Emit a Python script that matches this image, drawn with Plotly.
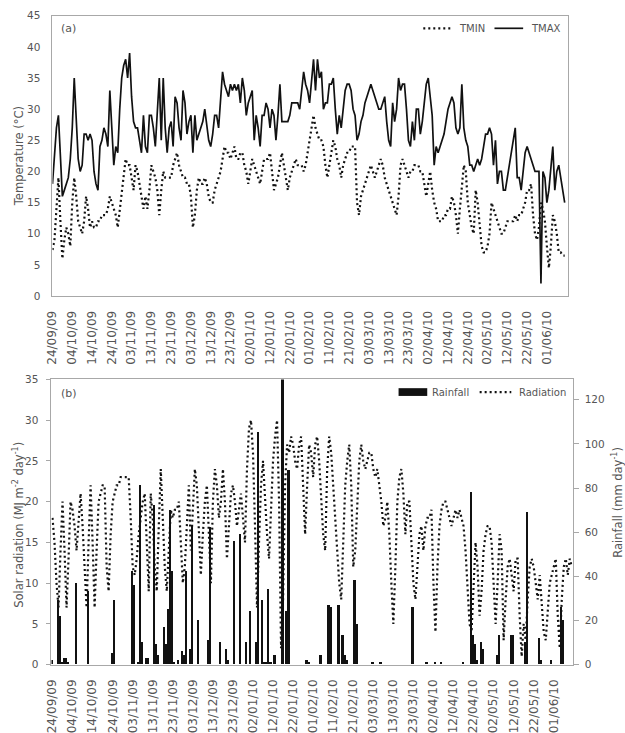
import numpy as np
import pandas as pd
import plotly.graph_objects as go

# ---------------- data ----------------
start_date = "2009-09-24"
n_days = 260
n_date_ticks = 26          # one label every 10 days, 24/09/09 ... 01/06/10

tmax = [18,22,27,29,23,16,17,18,19,22,
        27,35,27,22,20,21,26,26,25,26,
        25,20,18,17,24,25,27,26,24,33,
        27,21,24,23,30,35,37,38,35,39,
        32,28,27,27,25,23,29,24,23,29,
        29,27,24,29,35,25,35,27,23,27,
        28,24,32,31,27,25,33,31,26,28,
        29,23,29,25,26,27,28,30,27,25,
        24,26,29,29,27,31,36,34,33,32,
        34,33,34,33,34,31,35,33,29,31,
        32,33,25,29,27,24,29,29,31,30,
        27,30,29,25,29,34,28,28,28,28,
        29,31,31,31,31,30,33,36,34,33,
        31,35,38,33,38,35,36,30,31,31,
        34,34,35,30,26,29,27,30,33,34,
        34,33,30,29,25,26,28,29,31,32,
        33,34,33,32,31,30,30,31,32,28,
        25,24,31,28,30,35,33,34,34,30,
        25,24,28,25,30,30,26,28,31,34,
        35,32,29,21,24,23,24,25,26,28,
        30,31,32,31,27,26,27,34,27,25,
        24,21,21,20,21,22,21,22,24,26,
        26,27,26,21,25,18,20,20,17,17,
        19,21,23,25,27,19,19,17,20,23,
        24,23,22,21,20,20,20,2,20,19,
        15,17,20,24,17,20,21,19,17,15]

tmin = [7.4,9,14,19,12,6,9,11,10,8,
        15,19,16,12,11,10,12,16,14,11,
        12,11,11,12,12,13,13,13,14,16,
        15,14,13,11,14,17,20,22,21,21,
        19,17,21,20,18,16,14,16,14,17,
        21,20,19,17,13,17,20,19,19,19,
        19,21,22,23,21,20,19,19,18,18,
        16,11,13,17,19,18,18,19,18,16,
        15,15,17,18,19,20,22,24,23,23,
        22,23,24,22,22,23,23,21,20,18,
        20,22,21,20,19,18,20,22,22,22,
        23,20,17,18,19,21,23,21,19,17,
        19,20,21,22,21,21,21,20,21,23,
        25,27,29,27,26,25,25,24,21,19,
        21,23,25,24,22,21,19,21,22,23,
        23,24,24,24,15,13,16,17,18,19,
        20,21,20,19,20,21,22,21,19,18,
        17,16,15,14,13,16,21,22,21,20,
        19,20,20,21,21,21,20,20,18,16,
        18,20,17,15,14,12,12,12,13,13,
        14,14,16,15,13,10,14,18,21,20,
        15,13,11,10,17,15,11,8,7,7,
        8,10,15,14,13,12,11,10,10,11,
        12,12,12,12,13,12,13,13,14,15,
        17,17,18,13,10,9,11,15,14,12,
        8,4.5,8,13,12,10,7,7,6.5,6.5]

radiation = [18,15,10,7,14,20,14,7,13,20,
             19,17,14,18,21,17,11,7,15,22,
             15,7,14,20,21,22,22,12,9,16,
             20,21,22,22,23,23,23,23,23,18,
             12,11,13,16,18,20,21,14,9,21,
             18,12,9,17,24,18,12,9,15,19,
             18,19,19,20,15,10,12,18,22,14,
             20,24,22,17,11,16,20,22,15,10,
             20,24,22,18,20,24,20,13,17,21,
             22,20,17,19,21,18,15,24,29,30,
             26,17,7,15,22,25,20,16,13,20,
             25,28,30,20,2,8,22,27,26,28,
             27,25,24,27,28,22,16,22,27,26,
             23,27,28,25,20,16,14,24,28,26,
             22,18,14,10,8,16,22,25,27,22,
             12,14,20,25,27,25,24,25,26,26,
             24,23,24,22,20,17,18,20,16,10,
             5,12,20,23,24,21,16,20,20,15,
             10,8,12,16,17,14,17,18,18,19,
             10,4,12,17,19,20,20,19,18,17,
             18,19,18,19,18,17,14,9,5,4,
             10,15,12,6,9,14,16,17,17,15,
             10,5,10,16,14,3,8,12,13,11,
             9,13,13,6,1,5,3,8,12,13,
             12,10,8,11,8,4,3,6,10,11,
             12,13,6,2,8,12,13,11,13,12]

rain_day = [0,3,4,5,6,7,8,12,18,30,31,40,41,43,44,45,47,48,51,52,53,56,57,58,59,60,61,63,65,66,
            67,69,70,73,78,79,84,87,88,91,94,97,99,102,103,105,106,107,108,109,111,115,117,118,
            127,128,134,138,139,143,145,146,147,151,152,160,164,180,187,191,194,205,209,210,211,
            212,214,215,222,223,229,230,236,237,243,244,249,254,255]
rain_mm = [2,29,22,1,3,3,1,37,33,5,29,42,36,1,81,10,3,3,72,9,4,17,9,25,70,42,1,2,6,4,
           42,7,63,20,11,62,10,7,2,56,59,10,24,10,105,29,1,1,34,1,4,140,24,88,
           2,1,4,27,26,27,13,4,2,38,18,1,1,26,1,1,1,1,78,13,9,
           2,10,7,4,13,13,13,10,69,12,2,2,26,20]

temp_ticks = list(range(0, 46, 5))
rad_ticks = list(range(0, 36, 5))
rain_ticks = list(range(0, 121, 20))

# ---------------- figure ----------------
W, H = 625, 733
t0 = pd.Timestamp(start_date)
dates = t0 + pd.to_timedelta(np.arange(n_days), unit="D")
rain_dates = t0 + pd.to_timedelta(np.array(rain_day), unit="D")
date_ticks = t0 + pd.to_timedelta(np.arange(n_date_ticks) * 10, unit="D")
DAY = pd.Timedelta(days=1)

def px(x):
    return x / W

def py(y):
    return 1 - y / H

ink = "#111111"
grey_txt = "#555555"
frame = "#a8a8a8"
dotdash = "2px,3px"

fig = go.Figure()
fig.add_trace(go.Scatter(x=dates, y=tmin, mode="lines", name="TMIN",
                         line=dict(color=ink, width=2.2, dash=dotdash),
                         xaxis="x", yaxis="y"))
fig.add_trace(go.Scatter(x=dates, y=tmax, mode="lines", name="TMAX",
                         line=dict(color=ink, width=1.7),
                         xaxis="x", yaxis="y"))
fig.add_trace(go.Bar(x=rain_dates, y=rain_mm, name="Rainfall",
                     marker=dict(color=ink, line=dict(width=0)),
                     width=0.95 * 86400000, xaxis="x2", yaxis="y2"))
fig.add_trace(go.Scatter(x=dates, y=radiation, mode="lines", name="Radiation",
                         line=dict(color=ink, width=2.2, dash=dotdash),
                         xaxis="x2", yaxis="y3"))

date_axis = dict(type="date", tickvals=list(date_ticks),
                 tickformat="%d/%m/%y", tickangle=-90, showline=True, mirror=True,
                 linecolor=frame, linewidth=1, showgrid=False, zeroline=False,
                 ticks="", tickfont=dict(size=12, color=grey_txt),
                 ticklabelstandoff=9)

fig.update_layout(
    width=W, height=H, margin=dict(l=0, r=0, t=0, b=0),
    paper_bgcolor="white", plot_bgcolor="white", showlegend=False,
    font=dict(family="DejaVu Sans", color=grey_txt, size=10.5),
    bargap=0,
    xaxis=dict(date_axis, domain=[px(46), px(567)], anchor="y",
               range=[t0, t0 + 260.5 * DAY]),
    yaxis=dict(domain=[py(299), py(10)], anchor="x", range=[0, 45],
               tickvals=temp_ticks, showline=True, mirror=True, linecolor=frame,
               showgrid=False, zeroline=False, ticks="", ticklabelstandoff=9,
               tickfont=dict(size=10.5, color=grey_txt)),
    xaxis2=dict(date_axis, domain=[px(45), px(572)], anchor="y2",
                range=[t0 - 0.5 * DAY, t0 + 259.4 * DAY]),
    yaxis2=dict(domain=[py(679), py(385)], anchor="x2", range=[0, 129.2],
                tickvals=rain_ticks, side="right", showline=True, mirror=True,
                linecolor=frame, showgrid=False, zeroline=False, ticks="outside",
                ticklen=5, tickcolor=frame, ticklabelstandoff=4,
                tickfont=dict(size=10.5, color=grey_txt)),
    yaxis3=dict(overlaying="y2", anchor="x2", side="left", range=[0, 35],
                tickvals=rad_ticks, showline=False, showgrid=False, zeroline=False,
                ticks="outside", ticklen=4, tickcolor=frame, ticklabelstandoff=6,
                tickfont=dict(size=10.5, color=grey_txt)),
)

ann = []
def text(x, y, s, size=10, anchor="left", angle=0):
    ann.append(dict(x=px(x), y=py(y), xref="paper", yref="paper", text=s,
                    showarrow=False, xanchor=anchor, yanchor="middle",
                    textangle=angle, font=dict(size=size, color=grey_txt,
                                               family="DejaVu Sans")))

text(12, 155, "Temperature (°C)", size=11.5, anchor="center", angle=-90)
text(12, 535, "Solar radiation (MJ m<sup>-2</sup> day<sup>-1</sup>)", size=11.5,
     anchor="center", angle=-90)
text(618, 512, "Rainfall (mm day<sup>-1</sup>)", size=11.5, anchor="center", angle=-90)
text(53, 23, "(a)", size=11)
text(53, 399, "(b)", size=11)
text(455, 23, "TMIN", size=10)
text(528, 23, "TMAX", size=10)
text(428, 398, "Rainfall", size=10)
text(516, 398, "Radiation", size=10)

shapes = [
    dict(type="line", xref="paper", yref="paper", x0=px(421), x1=px(451),
         y0=py(23), y1=py(23), line=dict(color=ink, width=2.2, dash=dotdash)),
    dict(type="line", xref="paper", yref="paper", x0=px(493), x1=px(522),
         y0=py(23), y1=py(23), line=dict(color=ink, width=1.7)),
    dict(type="rect", xref="paper", yref="paper", x0=px(396), x1=px(425),
         y0=py(402), y1=py(394), fillcolor=ink, line=dict(width=0)),
    dict(type="line", xref="paper", yref="paper", x0=px(478), x1=px(510),
         y0=py(398), y1=py(398), line=dict(color=ink, width=2.2, dash=dotdash)),
]

fig.update_layout(annotations=ann, shapes=shapes)
fig.write_html("out.html")
